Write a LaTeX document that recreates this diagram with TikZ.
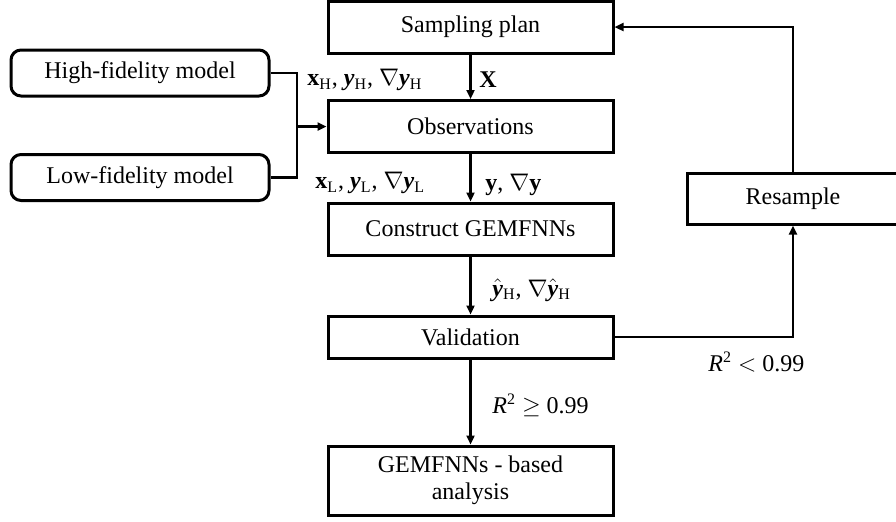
\documentclass[tikz,border=0pt]{standalone}
\usepackage{amsmath}
\usepackage{fontspec}
\setmainfont{Liberation Serif}
\usetikzlibrary{arrows.meta}
\newcommand{\bx}{\textbf{x}}
\newcommand{\by}{\textbf{\textit{y}}}
\begin{document}
\begin{tikzpicture}[x=0.5pt,y=-0.5pt,
		stepbox/.style={draw,line width=1.5pt,minimum width=142.5pt,minimum height=26pt,
			inner sep=0pt,align=center,font=\fontsize{12}{13.5}\selectfont},
		modelbox/.style={stepbox,rounded corners=5pt,minimum width=129pt,minimum height=23pt},
		flow/.style={-{Triangle[length=4.5pt,width=4pt]},line width=1.3pt},
		lbl/.style={inner sep=0pt,font=\fontsize{12}{13.5}\selectfont}]
	\useasboundingbox (0,0) rectangle (896,521);
	\node[stepbox] (plan) at (470.5,27) {Sampling plan};
	\node[stepbox] (obs) at (470.5,126.5) {Observations};
	\node[stepbox] (build) at (470.5,229) {Construct GEMFNNs};
	\node[stepbox,minimum height=21pt] (check) at (470.5,337) {Validation};
	\node[stepbox,minimum height=34.5pt] (use) at (470.5,480.5)
		{GEMFNNs - based\\analysis};
	\node[stepbox,minimum width=106pt,minimum height=25.5pt] (resamp) at (793,198.5)
		{Resample};
	\node[modelbox] (hifi) at (140,73) {High-fidelity model};
	\node[modelbox] (lofi) at (140,177.5) {Low-fidelity model};
	\coordinate (join) at (297,126.5);
	\draw[line width=1.3pt] (hifi.east) -| (join);
	\draw[line width=1.3pt] (lofi.east) -| (join);
	\draw[flow] (join) -- (obs.west);
	\draw[flow] (plan) -- (obs);
	\draw[flow] (obs) -- (build);
	\draw[flow] (build) -- (check);
	\draw[flow] (check) -- (use);
	\draw[flow] (check.east) -| (resamp.south);
	\draw[flow] (resamp.north) |- (plan.east);
	\node[lbl,anchor=west] (lblH) at (307,80)
		{\bx\textsubscript{H}, \by\textsubscript{H}, $\nabla$\by\textsubscript{H}};
	\node[lbl,anchor=west] (lblL) at (315,183)
		{\bx\textsubscript{L}, \by\textsubscript{L}, $\nabla$\by\textsubscript{L}};
	\node[lbl,anchor=west] (lblX) at (479,80) {\textbf{X}};
	\node[lbl,anchor=west] (lblY) at (485,185) {\textbf{y}, $\nabla$\textbf{y}};
	\node[lbl,anchor=west] (lblHat) at (492,290)
		{$\hat{\text{\by}}$\textsubscript{H}, $\nabla\hat{\text{\by}}$\textsubscript{H}};
	\node[lbl,anchor=west] (lblOk) at (492,405) {\textit{R}\textsuperscript{2} $\geq$ 0.99};
	\node[lbl,anchor=west] (lblBad) at (708,362) {\textit{R}\textsuperscript{2} $<$ 0.99};
\end{tikzpicture}
\end{document}
